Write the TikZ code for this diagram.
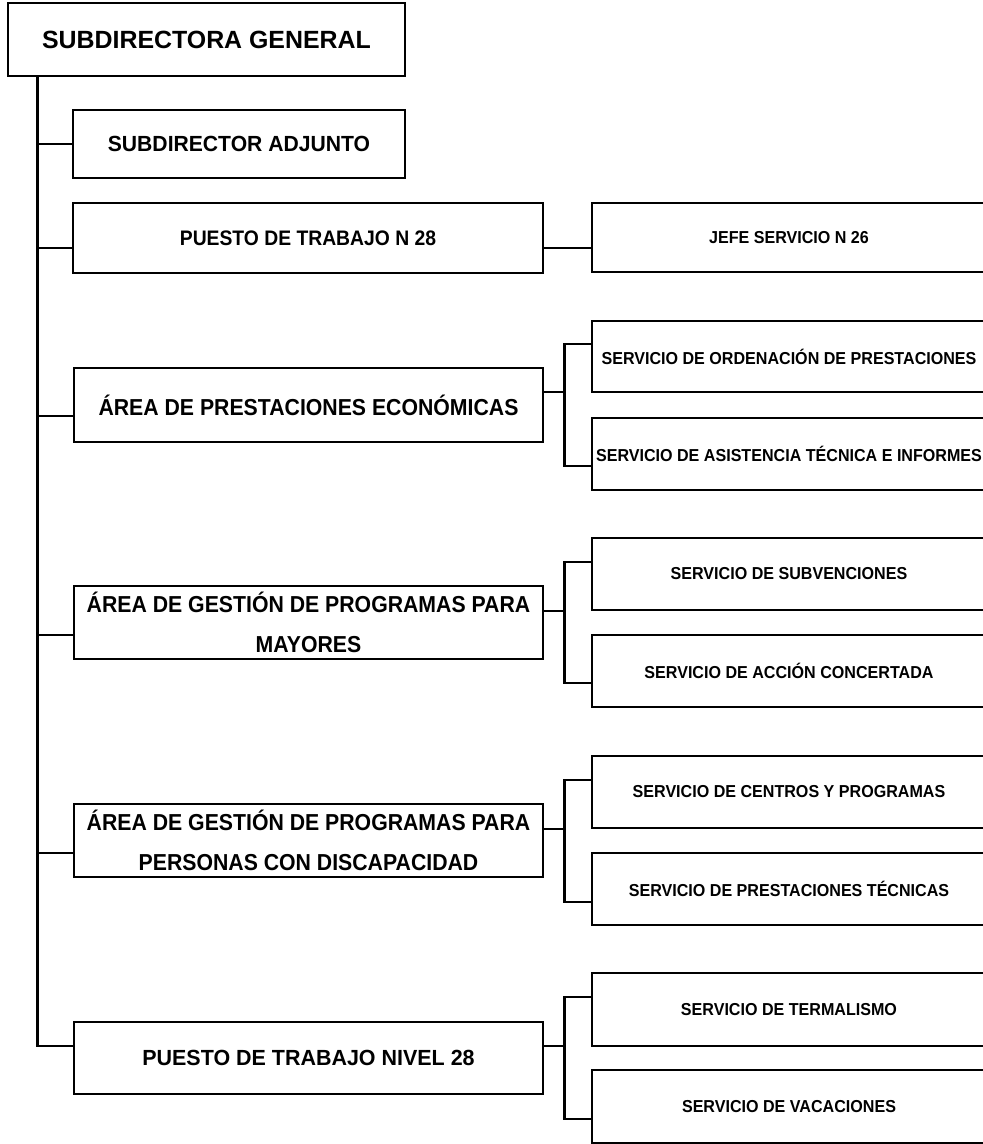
\documentclass[tikz,border=0pt]{standalone}
\usepackage{fontspec}
\setmainfont{Liberation Sans}
\newfontfamily\narA{Liberation Sans}[FakeStretch=0.92]
\newfontfamily\narB{Liberation Sans}[FakeStretch=0.965]
\newfontfamily\narC{Liberation Sans}[FakeStretch=0.98]
\newfontfamily\narD{Liberation Sans}[FakeStretch=0.93]
\begin{document}
\begin{tikzpicture}[x=1pt,y=-1pt,
  box/.style={draw, line width=2.8pt, inner sep=0pt, align=center},
  lnk/.style={line width=2.8pt},
  topf/.style={font=\bfseries\fontsize{24.9}{30}\selectfont},
  midf/.style={font=\narA\bfseries\fontsize{23.1}{40.5}\selectfont},
  smallf/.style={font=\narD\bfseries\fontsize{17.3}{20}\selectfont},
  midbox/.style={box, midf, minimum width=469pt, minimum height=73pt},
  rbox/.style={box, smallf, minimum width=394pt, minimum height=72pt}]
\useasboundingbox (0,0) rectangle (983,1144);
\clip (0,0) rectangle (983,1144);
% main column
\node[box, topf, minimum width=397pt, minimum height=73pt] (top) at (206.5,39.5) {SUBDIRECTORA GENERAL};
\node[box, font=\narB\bfseries\fontsize{21.9}{26}\selectfont, minimum width=332pt, minimum height=68pt] (adj) at (239,144) {SUBDIRECTOR ADJUNTO};
\node[box, font=\narA\bfseries\fontsize{21}{24}\selectfont, minimum width=470pt, minimum height=70pt] (p28) at (308,238) {PUESTO DE TRABAJO N 28};
\node[midbox, minimum height=74pt] (prest) at (308.5,405) {ÁREA DE PRESTACIONES ECONÓMICAS};
\node[midbox] (may) at (308.5,622.5) {ÁREA DE GESTIÓN DE PROGRAMAS PARA\\MAYORES};
\node[midbox] (disc) at (308.5,840.5) {ÁREA DE GESTIÓN DE PROGRAMAS PARA\\PERSONAS CON DISCAPACIDAD};
\node[box, font=\narC\bfseries\fontsize{21.9}{26}\selectfont, minimum width=469pt, minimum height=72pt] (niv) at (308.5,1058) {PUESTO DE TRABAJO NIVEL 28};
% right column
\node[rbox, minimum height=69pt] (jefe) at (789,237.5) {JEFE SERVICIO N 26};
\node[rbox, minimum height=71pt] (orden) at (789,356.5) {SERVICIO DE ORDENACIÓN DE PRESTACIONES};
\node[rbox] (asist) at (789,454) {SERVICIO DE ASISTENCIA TÉCNICA E INFORMES};
\node[rbox] (subv) at (789,574) {SERVICIO DE SUBVENCIONES};
\node[rbox] (acc) at (789,671) {SERVICIO DE ACCIÓN CONCERTADA};
\node[rbox] (cent) at (789,792) {SERVICIO DE CENTROS Y PROGRAMAS};
\node[rbox] (tecn) at (789,889) {SERVICIO DE PRESTACIONES TÉCNICAS};
\node[rbox, minimum height=73pt] (term) at (789,1009.5) {SERVICIO DE TERMALISMO};
\node[rbox, minimum height=73pt] (vac) at (789,1106.5) {SERVICIO DE VACACIONES};
% trunk
\coordinate (trk) at ([xshift=31pt]top.south west);
\draw[lnk] (trk) |- ([yshift=12pt]niv.west);
\draw[lnk] (adj.west) -- (adj.west -| trk);
\draw[lnk] ([yshift=-10pt]p28.west) -- ([yshift=-10pt]p28.west -| trk);
\draw[lnk] ([yshift=-11pt]prest.west) -- ([yshift=-11pt]prest.west -| trk);
\draw[lnk] ([yshift=-12.5pt]may.west) -- ([yshift=-12.5pt]may.west -| trk);
\draw[lnk] ([yshift=-12.5pt]disc.west) -- ([yshift=-12.5pt]disc.west -| trk);
% right links
\draw[lnk] ([yshift=-10pt]p28.east) -- ([yshift=-10pt]p28.east -| jefe.west);
\draw[lnk] ([yshift=13pt]prest.east) -- ++(20,0);
\draw[lnk] ([yshift=12.5pt]orden.west) -| ([xshift=20pt]prest.east) |- ([yshift=-12pt]asist.west);
\draw[lnk] ([yshift=11.5pt]may.east) -- ++(20,0);
\draw[lnk] ([yshift=12pt]subv.west) -| ([xshift=20pt]may.east) |- ([yshift=-12pt]acc.west);
\draw[lnk] ([yshift=11.5pt]disc.east) -- ++(20,0);
\draw[lnk] ([yshift=12pt]cent.west) -| ([xshift=20pt]disc.east) |- ([yshift=-13pt]tecn.west);
\draw[lnk] ([yshift=12pt]niv.east) -- ++(20,0);
\draw[lnk] ([yshift=12.5pt]term.west) -| ([xshift=20pt]niv.east) |- ([yshift=-12.5pt]vac.west);
\end{tikzpicture}
\end{document}
